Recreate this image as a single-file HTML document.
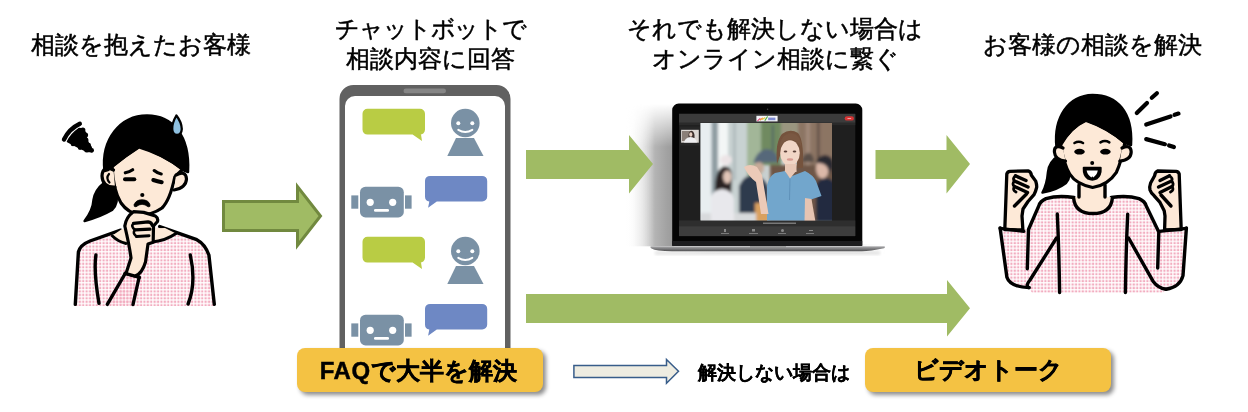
<!DOCTYPE html>
<html lang="ja">
<head>
<meta charset="utf-8">
<style>
html,body{margin:0;padding:0;background:#fff;}
body{width:1248px;height:412px;position:relative;overflow:hidden;will-change:transform;font-family:"Liberation Sans",sans-serif;color:#000;}
.t{position:absolute;font-size:24px;line-height:30px;white-space:nowrap;-webkit-text-stroke:0.5px #000;}
.c{text-align:center;}
.box{position:absolute;top:348px;width:246px;height:44px;background:#f4c243;border-radius:8px;box-shadow:3px 3px 4px rgba(0,0,0,0.45);}
.bt{position:absolute;font-size:24px;font-weight:bold;line-height:24px;white-space:nowrap;-webkit-text-stroke:0.45px #000;}
svg{position:absolute;left:0;top:0;}
</style>
</head>
<body>
<!-- titles -->
<div class="t" style="left:31px;top:30px;">相談を抱えたお客様</div>
<div class="t c" style="left:330px;top:14px;width:200px;"><span style="letter-spacing:-1.1px;margin-right:-1.1px">チャットボットで</span><br>相談内容に回答</div>
<div class="t c" style="left:625px;top:14px;width:300px;">それでも解決しない場合は<br>オンライン相談に繋ぐ</div>
<div class="t" style="left:983px;top:30px;">お客様の相談を解決</div>

<svg id="main" width="1248" height="412" viewBox="0 0 1248 412">
  <defs>
    <linearGradient id="shg" x1="0" y1="0" x2="1" y2="0">
      <stop offset="0" stop-color="#fff" stop-opacity="0"/>
      <stop offset="0.35" stop-color="#d8d8d8" stop-opacity="0.6"/>
      <stop offset="0.6" stop-color="#b4b4b4"/>
      <stop offset="0.85" stop-color="#a2a2a2"/>
      <stop offset="1" stop-color="#9a9a9a"/>
    </linearGradient>
    <linearGradient id="shv" x1="0" y1="0" x2="0" y2="1">
      <stop offset="0" stop-color="#fff" stop-opacity="0"/>
      <stop offset="0.3" stop-color="#fff" stop-opacity="1"/>
      <stop offset="1" stop-color="#fff" stop-opacity="1"/>
    </linearGradient>
    <mask id="shm"><rect x="620" y="104" width="60" height="143" fill="url(#shv)"/></mask>
  </defs>
  <rect x="626" y="104" width="48" height="142.3" fill="url(#shg)" mask="url(#shm)"/>
  <!-- green arrow 1 (bordered) -->
  <polygon points="223.5,201.5 297.5,201.5 297.5,186.5 320.5,216 297.5,245.5 297.5,230.5 223.5,230.5" fill="#a0bb64" stroke="#71893f" stroke-width="3"/>
  <!-- arrow 2 -->
  <polygon points="526,150 629,150 629,135 653,164 629,193.5 629,179 526,179" fill="#a0bb64"/>
  <!-- arrow 3 -->
  <polygon points="875.5,150 946.5,150 946.5,135 970,164 946.5,193.5 946.5,179 875.5,179" fill="#a0bb64"/>
  <!-- long arrow -->
  <polygon points="526,294 947,294 947,280 970,308.2 947,336.5 947,323 526,323" fill="#a0bb64"/>

  <!-- phone -->
  <path d="M339.5,360 V99 A14,14 0 0 1 353.5,85 H496.5 A14,14 0 0 1 510.5,99 V360 H505 V106 A10,10 0 0 0 495,96 H355 A10,10 0 0 0 345,106 V360 Z" fill="#616161"/>
  <rect x="403.5" y="88.5" width="42.5" height="4.8" rx="2.4" fill="#868686"/>

  <!-- chat set (repeat at +128) -->
  <g id="chat">
    <path d="M367.5,108.7 H420 A5,5 0 0 1 425,113.7 V129.6 A5,5 0 0 1 420,134.6 H421 L422,141 L412.6,134.6 H367.5 A5,5 0 0 1 362.5,129.6 V113.7 A5,5 0 0 1 367.5,108.7 Z" fill="#b9cc44"/>
    <circle cx="465.3" cy="123" r="14.3" fill="#7a91a5"/>
    <circle cx="458.3" cy="123.3" r="2" fill="#fff"/>
    <circle cx="472.3" cy="123.3" r="2" fill="#fff"/>
    <path d="M458.3,129.8 Q465.3,134.2 472.3,129.8" stroke="#fff" stroke-width="2" fill="none" stroke-linecap="round"/>
    <polygon points="456,138 474,138 483.5,156 447.3,156" fill="#7a91a5"/>
    <!-- robot -->
    <rect x="360" y="186.7" width="43.8" height="30.7" rx="5.5" fill="#7a91a5"/>
    <rect x="351.3" y="195.4" width="7" height="13.3" fill="#7a91a5"/>
    <rect x="405" y="195.4" width="6.6" height="13.3" fill="#7a91a5"/>
    <circle cx="370.2" cy="202.3" r="3.6" fill="#fff"/>
    <circle cx="392.7" cy="202.3" r="3.6" fill="#fff"/>
    <rect x="374" y="209" width="15" height="2.7" rx="1.3" fill="#fff"/>
    <!-- blue bubble -->
    <path d="M430,175.9 H482.2 A5,5 0 0 1 487.2,180.9 V196.4 A5,5 0 0 1 482.2,201.4 H436.8 L428.1,207.7 L429.3,201.4 A5,5 0 0 1 425,196.4 V180.9 A5,5 0 0 1 430,175.9 Z" fill="#6e88c4"/>
  </g>
  <use href="#chat" transform="translate(0,128)"/>

  <!-- laptop -->
  <defs>
    <filter id="sh" x="-150%" y="-30%" width="400%" height="160%"><feGaussianBlur stdDeviation="8"/></filter>
    <filter id="b1" x="-10%" y="-10%" width="120%" height="120%"><feGaussianBlur stdDeviation="1.6"/></filter><filter id="b2" x="-10%" y="-10%" width="120%" height="120%"><feGaussianBlur stdDeviation="0.75"/></filter>
    <filter id="b05"><feGaussianBlur stdDeviation="0.7"/></filter>
    <linearGradient id="base" x1="0" y1="0" x2="0" y2="1">
      <stop offset="0" stop-color="#b4b4b6"/><stop offset="0.3" stop-color="#8e8e90"/><stop offset="1" stop-color="#4e4e50"/>
    </linearGradient>
    <clipPath id="vclip"><rect x="700.5" y="123" width="131.5" height="97.4"/></clipPath>
  </defs>
  
  
  <rect x="655" y="251" width="225" height="4" fill="#e6e6e6" filter="url(#b1)"/>
  <rect x="700" y="246" width="170" height="6" fill="#c8c8c8" filter="url(#sh)" opacity="0.5"/>
  <path d="M672.2,245.5 V110 A6.5,6.5 0 0 1 678.7,103.5 H855.8 A6.5,6.5 0 0 1 862.3,110 V245.5 Z" fill="#050505"/>
  <rect x="672.2" y="241" width="190" height="5" fill="#1c1c1e"/>
  <path d="M651,246.3 H884.5 Q885.5,247.5 884,248.3 Q870,251.3 862,251.3 H672 Q656,251.3 651.5,248.5 Q649.5,246.8 651,246.3 Z" fill="url(#base)"/>
  <rect x="750" y="246.3" width="36" height="1.4" fill="#8c8c8c"/>
  <!-- screen -->
  <rect x="679" y="113.8" width="176.3" height="122.3" fill="#1f1f1f"/>
  <rect x="679" y="113.8" width="176.3" height="9" fill="#3b3b3b"/>
  <rect x="679" y="122.8" width="176.3" height="2.4" fill="#2a2a2a"/>
  <rect x="679" y="220.4" width="176.3" height="5.8" fill="#2e2e2e"/>
  <rect x="679" y="226.2" width="176.3" height="9.9" fill="#3d3d3d"/>
  <rect x="756.4" y="115.8" width="21.2" height="5.6" fill="#f4f4f8"/>
  <g stroke-width="1.1" fill="none" stroke-linecap="round">
    <path d="M757.8,120.6 L760,118.6" stroke="#e0407a"/>
    <path d="M760.2,120 L762.4,118.2" stroke="#f08a30"/>
    <path d="M762.6,119.4 L764.8,117.8" stroke="#e8c830"/>
    <path d="M765,120.4 L767.4,116.8" stroke="#50b040"/>
  </g>
  <rect x="768.2" y="117.6" width="7.2" height="2.6" fill="#6070c8" opacity="0.8"/>
  <rect x="844.7" y="116.2" width="9.2" height="4.4" rx="2.2" fill="#d83434"/><rect x="847.5" y="118" width="3.6" height="0.8" fill="#f4c0c0"/>
  <circle cx="767.6" cy="109.2" r="0.8" fill="#444"/>
  <!-- thumbnail -->
  <rect x="680" y="126.5" width="20" height="19" fill="#262626"/>
  <rect x="681.1" y="129.8" width="17.7" height="12.9" fill="#dcd8d4"/>
  <g filter="url(#b05)">
    <rect x="682" y="131" width="8" height="10" fill="#8a7f78"/>
    <path d="M688.5,138 Q688,131 691.5,130.8 Q695,131.5 694.5,138 Z" fill="#3a2e2a"/>
    <ellipse cx="690.8" cy="134.5" rx="1.6" ry="2.2" fill="#e6cfc2"/>
    <path d="M684,142.5 Q685,137.5 690.5,137 Q696,137.5 697,142.5 Z" fill="#eeeef0"/>
  </g>
  <!-- subtitle text & icons -->
  <rect x="763" y="222.6" width="33" height="1.2" fill="#8a8a8a"/>
  <g fill="#8a8a8a">
    <rect x="724" y="229" width="2" height="3"/><rect x="752" y="229" width="3" height="2.5"/><rect x="781" y="229" width="3" height="3" rx="1.5"/><rect x="809" y="230" width="4" height="1"/>
    <rect x="721" y="233" width="8" height="0.8"/><rect x="749" y="233" width="9" height="0.8"/><rect x="778" y="233" width="8" height="0.8"/><rect x="806" y="233" width="8" height="0.8"/>
  </g>
  <!-- photo -->
  <g clip-path="url(#vclip)">
    <rect x="700.5" y="123" width="132.5" height="97.4" fill="#c8d0d0"/>
    <g filter="url(#b1)">
      <rect x="698" y="120" width="14" height="102" fill="#e8eef0"/>
      <rect x="711.5" y="120" width="6.5" height="102" fill="#8e9ca2"/>
      <rect x="718" y="120" width="10" height="102" fill="#f3f6f6"/>
      <rect x="728" y="120" width="19" height="102" fill="#c8d2d2"/>
      <rect x="733" y="120" width="3" height="60" fill="#b0bcbe"/>
      <rect x="747" y="120" width="14" height="60" fill="#a2b698"/>
      <rect x="761" y="120" width="20" height="45" fill="#6f8a60"/>
      <rect x="781" y="120" width="17" height="20" fill="#9a9680"/>
      <rect x="798" y="120" width="37" height="55" fill="#8c7464"/>
      <rect x="806" y="120" width="4" height="55" fill="#a28a7a"/>
      <rect x="817" y="120" width="2.5" height="55" fill="#5e4e44"/>
      <rect x="770" y="165" width="65" height="57" fill="#6e5646"/>
      <ellipse cx="726" cy="160" rx="6" ry="5" fill="#ece4e6"/>
      <path d="M753,163 Q757,150 767,149 Q777,150 779,162 Z" fill="#56687a"/><rect x="772" y="125" width="1.5" height="26" fill="#4a5a66"/>
      <path d="M801,162 Q804,152 810,153 Q814,156 814,162 Z" fill="#5a5048"/>
      <path d="M739,222 V186 Q744,175 753,175 Q764,176 768,188 V222 Z" fill="#2d3a4e"/>
      <ellipse cx="759" cy="168" rx="5" ry="6" fill="#c8aa98"/>
      <rect x="755" y="203" width="14" height="19" fill="#d9a05e"/>
      <rect x="700" y="213" width="56" height="9" fill="#d8dadc"/>
      <!-- left woman -->
      <path d="M715,194 Q714,171 723,166.5 Q732,165 732,177 L731,196 Z" fill="#2a2224"/>
      <ellipse cx="727.3" cy="177" rx="4.2" ry="6.5" fill="#e2c6b8"/>
      <path d="M711,222 V197 Q713,190 722,189 Q732,190 734,199 V222 Z" fill="#e8e8ec"/>
      <!-- right man -->
      <path d="M816,222 V185 Q819,178 826,178 Q834,179 836,186 V222 Z" fill="#222c40"/>
      <ellipse cx="822.5" cy="168.5" rx="6.5" ry="10" fill="#dbb8a8"/>
      <path d="M816,163 Q818,155 826,155 Q834,157 834,166 L829,175 Q829,162 816,163 Z" fill="#2a2a32"/>
    </g>
    <g filter="url(#b2)">
      <!-- main woman -->
      <path d="M777,164 Q775,142 782,134 Q790,128 798,133 Q804,140 803,168 L797,168 L797,150 L782,150 Z" fill="#74523c"/>
      <ellipse cx="790" cy="153" rx="9.8" ry="12.8" fill="#f1d6c6"/>
      <ellipse cx="785.5" cy="151.5" rx="1.8" ry="1" fill="#5a4038"/>
      <ellipse cx="794.5" cy="151.5" rx="1.8" ry="1" fill="#5a4038"/>
      <ellipse cx="790" cy="159.5" rx="3.2" ry="1.2" fill="#d89a90"/>
      <path d="M779.5,149 Q780,134 791,133 Q801,134 801.5,147 Q796,139 789,139.5 Q783,141 779.5,149 Z" fill="#7a5842"/>
      <rect x="785" y="164" width="11.5" height="8" fill="#e8c8b6"/>
      <path d="M767,222 V186 Q769,176 775,173 L785,171 L789.5,177 L805,171 Q813,175 816,181 L821.5,196 L811,199.5 L811,222 Z" fill="#72a6cc"/>
      <path d="M784.5,170.5 L796.5,170.5 L790,178.5 Z" fill="#e8c8b6"/>
      <path d="M790,178.5 L789.5,200" stroke="#5a8cb4" stroke-width="0.8"/>
      <path d="M805,198 L811.5,199 L815.5,222 L804.5,222 Z" fill="#e6c4b2"/>
      <path d="M744,167 Q750,163 757,167 L762,175 L768.5,214 L761,214 L756,182 Q748,176 744,167 Z" fill="#eccab8"/>
    </g>
  </g>

  <defs>
    <pattern id="dots" x="0" y="0" width="3.4" height="3.45" patternUnits="userSpaceOnUse">
      <rect x="0.5" y="0.5" width="2.2" height="2.2" fill="#f2adc0"/>
    </pattern>
  </defs>
  <!-- worried woman -->
  <g id="w1" stroke-linejoin="round" stroke-linecap="round">
    <!-- ponytail -->
    <path d="M104,183 Q95,190 93.5,200 Q93,210 84.6,221 Q100,217 112,210 Q119,204 116,190 Z" fill="#000" stroke="#000" stroke-width="2.5"/>
    <!-- shirt -->
    <path d="M75.3,306 L78.4,252 Q80,245 90,241 L120.7,230.2 L159.7,226.6 L196.8,239.7 Q205,244 208.9,255 L214.3,306 Z" fill="url(#dots)"/>
    <path d="M75.3,304.4 L78.4,252 Q80,245 90,241 L120.7,230.2" fill="none" stroke="#000" stroke-width="3.4"/>
    <path d="M159.7,226.6 L196.8,239.7 Q205,244 208.9,255 L214.3,304.4" fill="none" stroke="#000" stroke-width="3.4"/>
    <!-- neck -->
    <path d="M112.4,235.5 L122,229 L165,228 L176,233.5 Q165,241 153,242 L128,243.5 Q118,241 112.4,235.5 Z" fill="#fde9d7"/>
    <path d="M112.4,236 Q118,241.5 126,243.5" fill="none" stroke="#000" stroke-width="3"/>
    <path d="M152,242 Q165,241 176,233.5" fill="none" stroke="#000" stroke-width="3"/>
    <!-- arm lines -->
    <path d="M95.9,254.9 Q93.5,272 99,303.4" fill="none" stroke="#000" stroke-width="3.4"/>
    <path d="M190.3,255 Q196.5,283 188.1,304" fill="none" stroke="#000" stroke-width="3.4"/>
    <!-- forearm + sleeve -->
    <path d="M107.3,305 L125.5,273.5 L139.5,277 L133,305 Z" fill="url(#dots)"/>
    <path d="M107.3,304.4 L125.5,273" fill="none" stroke="#000" stroke-width="3.4"/>
    <path d="M139.2,277 L133,304.5" fill="none" stroke="#000" stroke-width="3.4"/>
    <path d="M124.8,273.5 L139.5,277.6" fill="none" stroke="#000" stroke-width="3"/>
    <!-- face -->
    <path d="M112,166 Q113,190 121,203 Q128,213 140,215 Q152,215 162,208 Q170,200 174.8,177 L183,169 Q163,154 139,147 Q125,156 112,166 Z" fill="#fde9d7" stroke="#000" stroke-width="3.2"/>
    <!-- ears -->
    <path d="M113.5,170 Q102.5,165 102,176 Q102.5,187.5 115,187" fill="#fde9d7" stroke="#000" stroke-width="3.2"/>
    <path d="M109,174 Q105.5,178 109.5,182.5" fill="none" stroke="#000" stroke-width="2.2"/>
    <path d="M176,175 Q186,170 186.5,179 Q186,188 174,190" fill="#fde9d7" stroke="#000" stroke-width="3.2"/>
    <!-- hair -->
    <path d="M104.5,171 C101,140 120,115.5 147,115.5 C172,115.5 190,135 188,172 L183,170 Q163,154 139.5,146.5 Q125,156 112,167 L108,170 Z" fill="#000" stroke="#000" stroke-width="2.5"/>
    <!-- sweat drop -->
    <path d="M176.4,115.5 Q172,123 172.2,129 Q172.5,134.8 177,134.8 Q181.5,134.8 181.8,129 Q181.5,122 176.4,115.5 Z" fill="#8ec0e0" stroke="#000" stroke-width="2.3"/>
    <!-- gloom scribble -->
    <path d="M79.8,123.8 Q69,129 64,139.5" fill="none" stroke="#000" stroke-width="4.4"/>
    <path d="M67.5,141.5 Q71,134 79,128.5 L83,129 L85.5,133 L86.5,138 L88,142.5 L91,147 L92.5,151.5 L87.5,151.5 L81,148.5 L74,145 Z" fill="#000" stroke="#000" stroke-width="1.5"/>
    <g fill="#000"><circle cx="82.8" cy="130" r="2.6"/><circle cx="85.6" cy="135" r="2.5"/><circle cx="86.2" cy="140" r="2.3"/><circle cx="88.6" cy="145" r="2.3"/><circle cx="91.6" cy="150.3" r="2.4"/><circle cx="86.5" cy="150.2" r="2.3"/><circle cx="80" cy="147.6" r="2.3"/><circle cx="73" cy="144" r="2.3"/></g>
    <!-- brows & eyes -->
    <path d="M125.3,172.8 Q129.5,172 132.7,169.8" fill="none" stroke="#000" stroke-width="3.2"/>
    <path d="M125,179.3 L134.3,179.3" fill="none" stroke="#000" stroke-width="4"/>
    <path d="M154.2,170.6 Q157.5,173.3 161.2,174" fill="none" stroke="#000" stroke-width="3.2"/>
    <path d="M153.3,180 Q157.5,181.3 161.7,182.2" fill="none" stroke="#000" stroke-width="4"/>
    <circle cx="142.3" cy="195" r="2.1" fill="#000"/>
    <!-- mouth -->
    <path d="M134.2,204.8 Q135.5,199.8 142,199.8 Q148.5,199.8 150,204.8 Q150.6,207.2 148.2,206.8 Q142,201.8 136,206.8 Q133.6,207.2 134.2,204.8 Z" fill="#000" stroke="#000" stroke-width="0.8"/>
    <!-- hand -->
    <path d="M124.8,226 Q126,217 133.5,211.7 L143.7,212.4 L155.4,216 Q158.5,218 157.5,221.5 L153.5,226 L153.2,242.3 L148,244 L145.5,262 Q142,274 135,276 L126,273.5 L131,258 Q129.5,246 124.8,226 Z" fill="#fde9d7" stroke="#000" stroke-width="3.2"/>
    <path d="M133.5,223.3 L148.1,221.9 Q151.7,222.5 152.3,225.5" fill="none" stroke="#000" stroke-width="3.2"/>
    <path d="M135,229.9 L150,229.2" fill="none" stroke="#000" stroke-width="3.2"/>
    <path d="M136.4,236.4 L149,235.7" fill="none" stroke="#000" stroke-width="3"/>
    <path d="M133.5,223.3 Q130.5,226.5 135,229.9 Q132,233 136.4,236.4" fill="none" stroke="#000" stroke-width="2.6"/>
  </g>

  <!-- happy woman -->
  <g id="w2" stroke-linejoin="round" stroke-linecap="round">
    <!-- excitement lines -->
    <g stroke="#000" stroke-width="4.2" fill="none">
      <path d="M1136.8,113.1 L1147,102.9 M1151.8,97.8 L1156.9,93.2"/>
      <path d="M1146.2,124.6 L1170.5,116.5 M1174.6,114.8 L1178.5,113.6"/>
      <path d="M1146.2,139.1 L1164.9,144.2 M1169.1,145.4 L1173.9,147.1"/>
    </g>
    <!-- ponytail -->
    <path d="M1058,156 Q1049,162 1048,172 Q1047,184 1042.5,192.6 Q1057,190 1066,183 Q1072,176 1068,163 Z" fill="#000" stroke="#000" stroke-width="2.5"/>
    <!-- body shirt -->
    <path d="M1074,197.7 Q1058,195 1046,198.6 Q1040,201.5 1039,205.4 L1028.5,229.5 L1000.1,228 L1006.9,277.3 Q1010,287 1029,287.6 L1032,292.8 L1163,292.8 L1166,289.3 Q1180,287 1183,275.6 L1186.4,228 L1158.8,232 L1146,205.4 Q1145,201.5 1139,198.6 Q1127,195 1111.3,197.7 Z" fill="url(#dots)"/>
    <g fill="none" stroke="#000" stroke-width="3.4">
      <path d="M1074,197.5 Q1058,195 1046,198.6 Q1040,201.5 1039,205.4 L1028.5,229.5 L1027.3,268.8"/>
      <path d="M1111.3,197.5 Q1127,195 1139,198.6 Q1145,201.5 1146,205.4 L1158.8,232 L1157.7,268"/>
      <path d="M1000.1,228 L1006.9,277.3 Q1010,287 1029,287.6"/>
      <path d="M1186.4,228 L1183,275.6 Q1180,287 1166,289.3"/>
      <path d="M1029,287.6 Q1025,286 1030,280 L1056.5,238"/>
      <path d="M1166,289.3 Q1158,288 1153,281.2 L1128.6,238"/>
      <path d="M1057.3,214 Q1059,250 1059.6,292.5"/>
      <path d="M1127.7,214.2 Q1126,250 1125.4,292.5"/>
    </g>
    <!-- neck -->
    <path d="M1079,184 L1105,184 L1105,196.5 L1112.4,197.5 Q1111,213.5 1093,213.5 Q1075,213.5 1073.6,197.5 L1079,196.5 Z" fill="#fde9d7"/>
    <path d="M1079,185 L1079,197 M1105,185 L1105,197 M1073.6,197.8 Q1075,213.5 1093,213.5 Q1111,213.5 1112.4,197.8" fill="none" stroke="#000" stroke-width="3.4"/>
    <!-- fists -->
    <path d="M1004.8,229.5 L1006.8,174 Q1007.5,171.5 1010,171.3 L1028.5,171 Q1031,172 1031.4,175.2 L1035.7,181.1 Q1037.2,186 1036.5,188 Q1035.5,192 1034,194.7 L1028,201.5 L1023,209 L1022,216 L1022.9,230 Z" fill="#fde9d7" stroke="#000" stroke-width="3.3"/>
    <g fill="none" stroke="#000" stroke-width="3">
      <path d="M1015.5,175.8 L1026,180.5" stroke-width="3.4"/>
      <path d="M1014.5,181 L1028,187" stroke-width="3.4"/>
      <path d="M1014.5,186.5 L1027.5,192.5" stroke-width="3.4"/>
      <path d="M1014.5,206 L1026.5,194" stroke-width="3.4"/>
      <path d="M1015.5,175.8 Q1012,178.5 1014.5,181 Q1011.5,184 1014.5,186.5 Q1012,190 1016,192" stroke-width="2.8"/>
    </g>
    <path d="M1181.2,229.5 L1179.2,174 Q1178.5,171.5 1176,171.3 L1157.5,171 Q1155,172 1154.6,175.8 L1150.6,183 Q1149.2,187 1150,190 Q1151,193 1154,195.6 L1160,202.4 L1164.2,210.8 L1165,216 L1164.6,230 Z" fill="#fde9d7" stroke="#000" stroke-width="3.3"/>
    <g fill="none" stroke="#000" stroke-width="3">
      <path d="M1169.5,175.8 L1160,180.5" stroke-width="3.4"/>
      <path d="M1171.5,181 L1158.5,187" stroke-width="3.4"/>
      <path d="M1172,186.5 L1160,192.5" stroke-width="3.4"/>
      <path d="M1171,206 L1161,195" stroke-width="3.4"/>
      <path d="M1169.5,175.8 Q1173.5,178.5 1171.5,181 Q1174.5,184 1172,186.5 Q1174.5,190 1170.5,192" stroke-width="2.8"/>
    </g>
    <path d="M1000.1,228.3 L1023.9,231.4" fill="none" stroke="#000" stroke-width="3.2"/>
    <path d="M1159.2,231.4 L1186.4,228.3" fill="none" stroke="#000" stroke-width="3.2"/>
    <!-- face -->
    <path d="M1060.4,144 Q1064,165 1069.7,174 Q1076,184 1092.6,187.5 Q1108,185 1116.4,172.3 Q1121,163 1124.9,142.3 Q1108,128 1085.8,120.3 Q1071,127 1060.4,144 Z" fill="#fde9d7" stroke="#000" stroke-width="3.2"/>
    <!-- ears -->
    <path d="M1063,148 Q1054,144 1054.4,152 Q1055,160 1065.5,161" fill="#fde9d7" stroke="#000" stroke-width="3.2"/>
    <path d="M1122,148 Q1131,144 1131.2,152 Q1131,160 1119.8,161" fill="#fde9d7" stroke="#000" stroke-width="3.2"/>
    <!-- hair -->
    <path d="M1056.5,147 C1053.5,118 1068,95.5 1092.6,95 C1117,95 1133,112 1131,145 L1125,143 Q1108,128 1085.8,120 Q1071,127 1061,145 Z" fill="#000" stroke="#000" stroke-width="2.5"/>
    <!-- brows, eyes, nose, mouth -->
    <path d="M1074.5,143 Q1078.7,140.5 1083,143 M1100.5,142.3 Q1105,139.8 1109.3,142.3" fill="none" stroke="#000" stroke-width="2.6"/>
    <ellipse cx="1079.5" cy="151.7" rx="5.3" ry="2.9" fill="#000"/>
    <ellipse cx="1105.4" cy="151.7" rx="5.3" ry="2.9" fill="#000"/>
    <circle cx="1092.2" cy="163" r="2" fill="#000"/>
    <path d="M1083.8,167.8 L1100.6,167.8 Q1101,175.5 1096.5,178.6 Q1092.3,180.6 1088,178.6 Q1083.5,175.5 1083.8,167.8 Z" fill="#000" stroke="#000" stroke-width="2.2"/>
    <path d="M1086.6,170.6 L1097.8,170.6 Q1097,175 1093.2,177.4 L1092.3,176.3 L1091.4,177.4 Q1087.5,175 1086.6,170.6 Z" fill="#fff"/>
  </g>

  <!-- outline arrow -->
  <polygon points="573.9,365.4 666.5,365.4 666.5,359.5 678.5,371.3 666.5,383.3 666.5,377.5 573.9,377.5" fill="#eeece1" stroke="#385d8a" stroke-width="1.5"/>
</svg>

<!-- yellow boxes -->
<div class="box" style="left:296.5px;"></div>
<div class="bt" style="left:319.7px;top:359.3px;"><span style="letter-spacing:0.6px">FAQ</span>で大半を解決</div>
<div class="t" style="left:697.5px;top:362.5px;font-size:19px;font-weight:bold;line-height:19px;-webkit-text-stroke:0.15px #000;">解決しない場合は</div>
<div class="box" style="left:864.5px;"></div>
<div class="bt" style="left:914.3px;top:358px;">ビデオトーク</div>

</body>
</html>
